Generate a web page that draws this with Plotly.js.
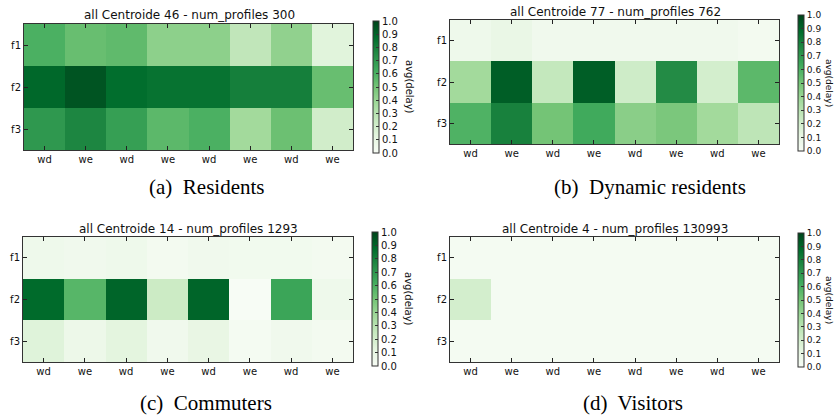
<!DOCTYPE html>
<html>
<head>
<meta charset="utf-8">
<script src="https://cdn.plot.ly/plotly-3.0.1.min.js"></script>
<style>html,body{margin:0;padding:0;background:#fff;}#chart{width:835px;height:419px;}</style>
</head>
<body>
<div id="chart"></div>
<script>
// ---- data ----
const rowLabels = ['f1', 'f2', 'f3'];
const colLabels = ['wd', 'we', 'wd', 'we', 'wd', 'we', 'wd', 'we'];

const titles = [
  'all Centroide 46 - num_profiles 300',
  'all Centroide 77 - num_profiles 762',
  'all Centroide 14 - num_profiles 1293',
  'all Centroide 4 - num_profiles 130993'
];
const captions = ['(a)\u00a0 Residents', '(b)\u00a0 Dynamic residents', '(c)\u00a0 Commuters', '(d)\u00a0 Visitors'];

const residents = [
  [0.60, 0.53, 0.55, 0.43, 0.43, 0.27, 0.42, 0.14],
  [0.89, 0.95, 0.87, 0.85, 0.85, 0.80, 0.80, 0.53],
  [0.70, 0.77, 0.67, 0.56, 0.60, 0.37, 0.52, 0.21]
];
const dynamicResidents = [
  [0.06, 0.09, 0.05, 0.05, 0.05, 0.05, 0.05, 0.03],
  [0.37, 0.92, 0.26, 0.92, 0.22, 0.75, 0.20, 0.56],
  [0.59, 0.79, 0.50, 0.63, 0.44, 0.48, 0.37, 0.28]
];
const commuters = [
  [0.06, 0.05, 0.06, 0.03, 0.05, 0.04, 0.04, 0.03],
  [0.88, 0.57, 0.90, 0.23, 0.90, 0.00, 0.65, 0.06],
  [0.15, 0.07, 0.13, 0.05, 0.10, 0.02, 0.05, 0.03]
];
const visitors = [
  [0.02, 0.02, 0.02, 0.02, 0.02, 0.02, 0.02, 0.02],
  [0.20, 0.02, 0.02, 0.02, 0.02, 0.02, 0.02, 0.02],
  [0.02, 0.02, 0.02, 0.02, 0.02, 0.02, 0.02, 0.02]
];
const colorbarTicks = [0, 0.1, 0.2, 0.3, 0.4, 0.5, 0.6, 0.7, 0.8, 0.9, 1.0];
const colorbarTitle = 'avg(delay)';

// ---- styling / layout ----
const W = 835, H = 419;
const px = v => v / W;
const py = v => 1 - v / H;

const greens = [
  [0.0, '#f7fcf5'], [0.125, '#e5f5e0'], [0.25, '#c7e9c0'], [0.375, '#a1d99b'],
  [0.5, '#74c476'], [0.625, '#41ab5d'], [0.75, '#238b45'], [0.875, '#006d2c'], [1.0, '#00441b']
];

// plot boxes in pixels: [x0, x1, ytop, ybottom]
const boxes = [
  [24, 353, 24, 150],
  [450, 779, 20, 144],
  [23, 353, 237, 362],
  [450, 779, 237, 362]
];
// colorbars: [xleft, ytop, ybottom, tick font size]
const cbars = [
  [373, 21, 153, 10],
  [798, 15, 151, 9],
  [372, 232, 366, 10],
  [798, 233, 367, 9]
];
const titlePos = [[189, 15], [615, 12], [188, 229], [615, 229]];
const capPos = [[206, 187], [650, 187], [206, 403], [633, 403]];
// colorbar title: [x, y, font size]
const cbTitlePos = [[409, 87, 10], [829, 83, 9], [409, 299, 10], [829, 300, 9]];

const datasets = [residents, dynamicResidents, commuters, visitors];
const xIdx = colLabels.map((_, i) => i);
const yIdx = rowLabels.map((_, i) => i);

const tickFont = {family: 'DejaVu Sans, sans-serif', size: 10, color: '#111'};
const traces = [];
const layout = {
  width: W, height: H,
  margin: {l: 0, r: 0, t: 0, b: 0},
  paper_bgcolor: '#fff', plot_bgcolor: '#fff',
  showlegend: false,
  annotations: []
};

datasets.forEach((z, k) => {
  const n = k === 0 ? '' : String(k + 1);
  const b = boxes[k], c = cbars[k];
  traces.push({
    type: 'heatmap',
    z: z, x: xIdx, y: yIdx,
    xaxis: 'x' + n, yaxis: 'y' + n,
    colorscale: greens, zmin: 0, zmax: 1,
    hoverinfo: 'skip',
    colorbar: {
      x: px(c[0]), xanchor: 'left', xpad: 0, ypad: 0,
      y: py((c[1] + c[2]) / 2), yanchor: 'middle',
      len: c[2] - c[1], lenmode: 'pixels',
      thickness: 6, thicknessmode: 'pixels',
      outlinewidth: 1, outlinecolor: '#333',
      tickvals: colorbarTicks, tickformat: '.1f',
      ticks: 'inside', ticklen: 3, tickcolor: '#333',
      tickfont: {family: 'DejaVu Sans, sans-serif', size: c[3], color: '#111'}
    }
  });
  layout['xaxis' + n] = {
    domain: [px(b[0]), px(b[1])],
    anchor: 'y' + n,
    range: [-0.5, colLabels.length - 0.5],
    tickvals: xIdx, ticktext: colLabels,
    ticks: 'inside', ticklen: 4, tickcolor: '#222',
    showline: true, linecolor: '#333', linewidth: 1, mirror: 'ticks',
    showgrid: false, zeroline: false, fixedrange: true,
    tickfont: tickFont
  };
  layout['yaxis' + n] = {
    domain: [py(b[3]), py(b[2])],
    anchor: 'x' + n,
    range: [rowLabels.length - 0.5, -0.5],
    tickvals: yIdx, ticktext: rowLabels,
    ticks: 'inside', ticklen: 4, tickcolor: '#222',
    showline: true, linecolor: '#333', linewidth: 1, mirror: 'ticks',
    showgrid: false, zeroline: false, fixedrange: true,
    tickfont: tickFont
  };
  layout.annotations.push({
    text: titles[k], xref: 'paper', yref: 'paper',
    x: px(titlePos[k][0]), y: py(titlePos[k][1]),
    xanchor: 'center', yanchor: 'middle', showarrow: false,
    font: {family: 'DejaVu Sans, sans-serif', size: 12, color: '#111'}
  });
  layout.annotations.push({
    text: captions[k], xref: 'paper', yref: 'paper',
    x: px(capPos[k][0]), y: py(capPos[k][1]),
    xanchor: 'center', yanchor: 'middle', showarrow: false,
    font: {family: 'Liberation Serif, Times New Roman, serif', size: 21, color: '#000'}
  });
  layout.annotations.push({
    text: colorbarTitle, xref: 'paper', yref: 'paper',
    x: px(cbTitlePos[k][0]), y: py(cbTitlePos[k][1]),
    xanchor: 'center', yanchor: 'middle', showarrow: false, textangle: 90,
    font: {family: 'DejaVu Sans, sans-serif', size: cbTitlePos[k][2], color: '#111'}
  });
});

Plotly.newPlot('chart', traces, layout, {displayModeBar: false, staticPlot: true});
</script>
</body>
</html>
